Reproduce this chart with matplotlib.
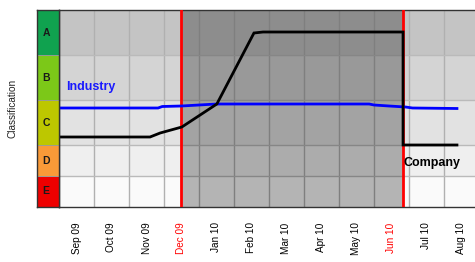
import matplotlib
matplotlib.use("Agg")
import matplotlib.pyplot as plt
from matplotlib.patches import Rectangle

plt.rcParams['font.family'] = ['Liberation Sans', 'DejaVu Sans']

# ---- data ----
months = ["Sep 09", "Oct 09", "Nov 09", "Dec 09", "Jan 10", "Feb 10",
          "Mar 10", "Apr 10", "May 10", "Jun 10", "Jul 10", "Aug 10"]
highlight_months = ["Dec 09", "Jun 10"]
classes = ["E", "D", "C", "B", "A"]
class_edges = [0, 31, 62, 107, 152, 197]          # classification score bands
class_colors = ["#ee0000", "#f99a38", "#bdc700", "#7cc818", "#10a24f"]
row_greys = ["#fafafa", "#efefef", "#e2e2e2", "#d4d4d4", "#c4c4c4"]

company_x = [0.0, 2.6, 2.89, 3.51, 4.51, 5.57, 5.83, 9.83, 9.83, 11.37]
company_y = [70, 70, 74, 80, 103, 174, 175, 175, 62, 62]

industry_x = [0.0, 2.83, 2.95, 3.5, 4.0, 4.5, 8.86, 9.0, 9.43, 9.9, 10.1, 11.37]
industry_y = [99, 99, 100.5, 101, 102, 103, 103, 102, 101, 100, 99, 98.5]

event_x = [3.5, 9.83]   # red event lines (Dec 09, Jun 10)

# ---- figure ----
fig = plt.figure(figsize=(4.75, 2.62), dpi=100)
W, H = 475, 262
ax = fig.add_axes([59 / W, (H - 207) / H, 420 / W, 197 / H])
axb = fig.add_axes([37 / W, (H - 207) / H, 22 / W, 197 / H])

n = len(months)
ax.set_xlim(0, n)
ax.set_ylim(class_edges[0], class_edges[-1])

# background rows
for i in range(len(classes)):
    ax.axhspan(class_edges[i], class_edges[i + 1], color=row_greys[i], zorder=0, lw=0)
# grid
for k in range(1, n):
    ax.axvline(k, color="#b0b0b0", lw=1.0, zorder=1)
for e in class_edges[1:-1]:
    ax.axhline(e, color="#bababa", lw=1.0, zorder=1)
# shaded period
ax.axvspan(event_x[0], event_x[1], color="black", alpha=0.28, lw=0, zorder=2)
# event lines
for xv in event_x:
    ax.axvline(xv, color="#ff0000", lw=2.0, zorder=3)

ax.plot(industry_x, industry_y, color="#0000ff", lw=2.0, zorder=4, solid_joinstyle="miter")
ax.plot(company_x, company_y, color="black", lw=2.0, zorder=5, solid_joinstyle="miter")

ax.text(0.2, 120, "Industry", color="#1a1aff", fontsize=9, fontweight="bold",
        ha="left", va="center")
ax.text(9.85, 44, "Company", color="black", fontsize=9, fontweight="bold",
        ha="left", va="center")

ax.set_xticks([k + 0.5 for k in range(n)])
ax.set_xticklabels(months, rotation=90, fontsize=7.2, va="top")
for lbl in ax.get_xticklabels():
    if lbl.get_text() in highlight_months:
        lbl.set_color("#ff0000")
ax.tick_params(axis="x", length=0, pad=11)
ax.set_yticks([])
ax.spines["right"].set_visible(False)
for s in ["top", "bottom", "left"]:
    ax.spines[s].set_color("#333333")
    ax.spines[s].set_linewidth(1.0)

# classification colour band
axb.set_xlim(0, 1)
axb.set_ylim(class_edges[0], class_edges[-1])
for i, c in enumerate(classes):
    axb.add_patch(Rectangle((0, class_edges[i]), 1, class_edges[i + 1] - class_edges[i],
                            facecolor=class_colors[i], edgecolor="#9a9a9a", lw=0.6))
    axb.text(0.42, (class_edges[i] + class_edges[i + 1]) / 2, c, ha="center", va="center",
             fontsize=7.5, fontweight="bold", color="#1a1a1a")
axb.set_xticks([])
axb.set_yticks([])
for s in axb.spines.values():
    s.set_color("#333333")
    s.set_linewidth(1.0)
axb.set_ylabel("Classification", fontsize=7.2, labelpad=14, color="#222222")

fig.savefig("out.png", dpi=100)
